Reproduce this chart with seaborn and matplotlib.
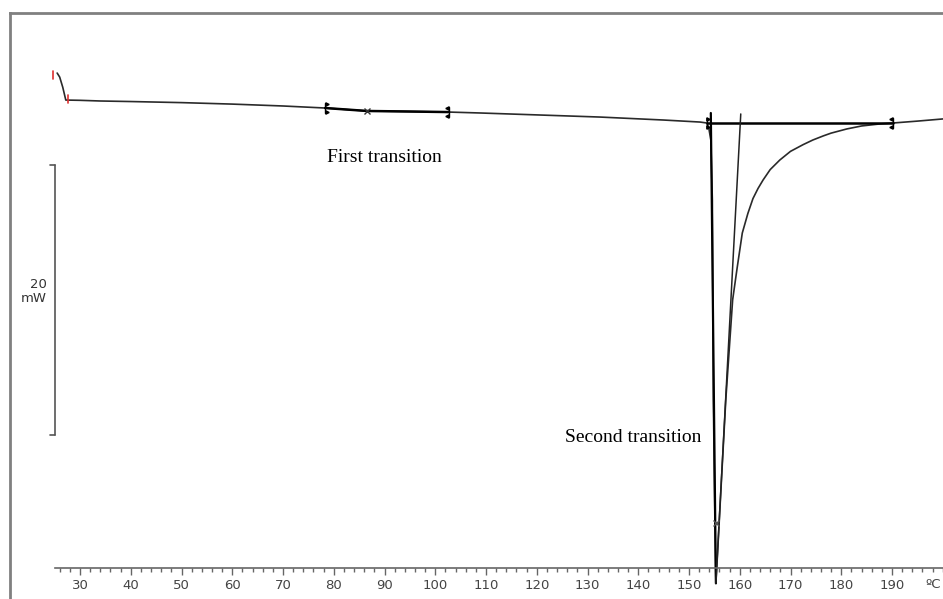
import numpy as np
import pandas as pd
import matplotlib
matplotlib.use("Agg")
import matplotlib.pyplot as plt
import seaborn as sns

# ---- data ----
temperature = [25.5, 26.0, 26.6, 27.2, 30, 34, 40, 50, 60, 70, 78.3, 86.6, 95,
               102.7, 109, 120, 132.5, 145, 152.2, 153.5, 153.9, 154.3, 154.6,
               154.8, 155.1, 155.3, 155.55, 156.4, 157.25, 158.6, 159.5, 160.5,
               161.6, 162.6, 163.6, 164.6, 166.0, 167.9, 170.0, 172.5, 174.4,
               176.5, 178.0, 181.1, 184.0, 187.6, 190.2, 195.0, 200.0]
heat_flow = [3.70, 3.40, 2.65, 1.70, 1.68, 1.63, 1.59, 1.51, 1.40, 1.26, 1.11,
             0.89, 0.85, 0.81, 0.74, 0.60, 0.44, 0.22, 0.07, 0.0, -0.37, -1.26,
             -5.7, -20.5, -29.4, -34.1, -32.4, -26.4, -20.5, -13.1, -10.7,
             -8.15, -6.7, -5.6, -4.85, -4.22, -3.45, -2.74, -2.1, -1.6, -1.26,
             -0.95, -0.75, -0.44, -0.22, -0.07, 0.0, 0.14, 0.30]

first_transition = [78.3, 86.6, 102.7]      # onset, midpoint, end
second_transition = [153.5, 155.3, 190.2]   # onset, peak, end
leading_tangent_t = [154.3, 155.3]
leading_tangent_h = [0.74, -34.1]
trailing_tangent_t = [160.2, 155.3]
trailing_tangent_h = [0.67, -34.1]
peak_cross_h = -29.6
scale_bar_mw = 20
x_ticks = list(range(30, 200, 10))
x_minor = list(range(26, 201, 2))

df = pd.DataFrame({"T": temperature, "HF": heat_flow})

sns.set_style("white")
plt.rcParams["font.family"] = ["DejaVu Sans"]

W, H = 943, 599
fig = plt.figure(figsize=(W / 100, H / 100), dpi=100)
# pixel mapping: px = 80 + (T-30)*5.075 ; py = 123 - HF*13.5
pxdeg, pxmw = 5.075, 13.5
def T_of(px):
    return 30 + (px - 80) / pxdeg
def H_of(py):
    return (123 - py) / pxmw

ax = fig.add_axes([10 / W, 0, (W - 10) / W, (H - 13) / H])
ax.set_xlim(T_of(10), T_of(W))
ax.set_ylim(H_of(H), H_of(13))

# main curve
sns.lineplot(data=df, x="T", y="HF", ax=ax, color="#2a2a2a", lw=1.2,
             sort=False, estimator=None)

# first transition: darker tangent segments
m = [(t >= 76) and (t <= 105) for t in temperature]
sub = df[m]
ax.plot(sub["T"], sub["HF"], color="black", lw=1.8)

# second transition construction lines
ax.plot([second_transition[0], second_transition[2]], [0, 0], color="black", lw=1.8)
ax.plot(leading_tangent_t, leading_tangent_h, color="black", lw=1.6)
ax.plot(trailing_tangent_t, trailing_tangent_h, color="#222222", lw=1.1)

# limit markers (small vertical bar with triangles)
dy = 5 / pxmw
def limit_marker(t, h, side):
    ax.plot([t, t], [h - dy, h + dy], color="black", lw=1.0)
    mk = ">" if side == "left" else "<"
    off = 0.3 if side == "left" else -0.3
    ax.plot([t + off, t + off], [h + dy * 0.8, h - dy * 0.8], ls="none",
            marker=mk, ms=2.4, color="black")

f_h = np.interp(first_transition, temperature[:20], heat_flow[:20])
limit_marker(first_transition[0], f_h[0], "left")
limit_marker(first_transition[2], f_h[2], "right")
ax.plot([first_transition[1]], [f_h[1]], marker="x", ms=5, color="#333333", mew=1.0)
limit_marker(second_transition[0], 0.0, "left")
limit_marker(second_transition[2], 0.0, "right")
ax.plot([second_transition[1]], [peak_cross_h], marker="x", ms=5, color="#555555", mew=1.0)

# red start/stop brackets
ax.plot([T_of(53), T_of(53)], [H_of(71), H_of(79)], color="#e03030", lw=1.2)
ax.plot([T_of(68), T_of(68)], [H_of(95), H_of(103)], color="#e03030", lw=1.2)

# scale bar
sb_x = T_of(55)
sb_top, sb_bot = H_of(165), H_of(165) - scale_bar_mw
ax.plot([sb_x, sb_x], [sb_top, sb_bot], color="#555555", lw=1.2)
ax.plot([T_of(50), sb_x], [sb_top, sb_top], color="#555555", lw=1.2)
ax.plot([T_of(50), sb_x], [sb_bot, sb_bot], color="#555555", lw=1.2)
ax.text(T_of(47), H_of(284), "20", ha="right", va="center", fontsize=9.5, color="#333333")
ax.text(T_of(47), H_of(299), "mW", ha="right", va="center", fontsize=9.5, color="#333333")

# annotations
ax.text(T_of(384), H_of(158), "First transition", ha="center", va="center",
        fontsize=14, family=["Liberation Serif"], color="black")
ax.text(T_of(633), H_of(437), "Second transition", ha="center", va="center",
        fontsize=14, family=["Liberation Serif"], color="black")

# spines / axis
ax.spines["right"].set_visible(False)
for s in ["left", "top"]:
    ax.spines[s].set_color("#808080")
    ax.spines[s].set_linewidth(2.0)
ax.spines["bottom"].set_position(("data", H_of(568)))
ax.spines["bottom"].set_bounds(T_of(55), T_of(W))
ax.spines["bottom"].set_color("#666666")
ax.spines["bottom"].set_linewidth(1.2)
ax.set_xticks(x_ticks)
ax.set_xticklabels([str(t) for t in x_ticks])
ax.set_xticks(x_minor, minor=True)
ax.tick_params(axis="x", which="both", bottom=True, top=False)
ax.tick_params(axis="x", which="major", direction="out", length=5, width=1.0,
               color="#666666", labelsize=9.5, labelcolor="#444444", pad=3)
ax.tick_params(axis="x", which="minor", direction="out", length=3, width=1.0,
               color="#666666")
ax.text(T_of(933), H_of(585), "ºC", ha="center", va="center", fontsize=9.5, color="#444444")
ax.set_yticks([])
ax.set_xlabel("")
ax.set_ylabel("")

fig.savefig("out.png", dpi=100)
